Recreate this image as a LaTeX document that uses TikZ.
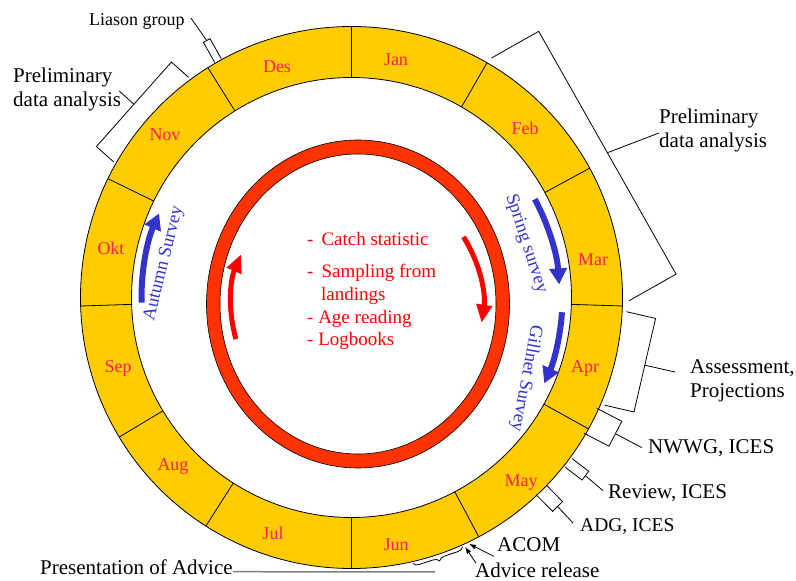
\documentclass[tikz,border=0pt]{standalone}
\usepackage{fontspec}
\setmainfont{Liberation Serif}
\usetikzlibrary{arrows.meta,calc,decorations.pathreplacing}

\definecolor{ringyellow}{RGB}{255,204,0}
\definecolor{ringred}{RGB}{255,51,0}
\definecolor{monthred}{RGB}{255,30,90}
\definecolor{catchred}{RGB}{255,0,0}
\definecolor{surveyblue}{RGB}{51,51,204}

\tikzset{
  month/.style={text=monthred, font=\fontsize{18}{18}\selectfont, inner sep=0pt},
  task/.style={font=\fontsize{21}{24}\selectfont, inner sep=0pt, align=left},
  catch/.style={text=catchred, font=\fontsize{19}{19}\selectfont, inner sep=0pt, anchor=base west},
  survey/.style={text=surveyblue, font=\fontsize{18.5}{18.5}\selectfont, inner sep=0pt},
  bluearrow/.style={surveyblue, line width=6pt, -{Triangle[width=17pt,length=16pt]}},
  redarrow/.style={catchred, line width=5pt, -{Triangle[width=15pt,length=18pt]}},
  leader/.style={black, line width=0.8pt},
  pointer/.style={black, line width=0.8pt, -{Latex[length=7pt,width=5pt]}},
}

% bracket: angle, inner, outer, half width, tip name
\newcommand{\taskbox}[5]{%
  \begin{scope}[shift={(C)}, rotate=#1]
    \draw[leader] (#2,-#4) -- (#3,-#4) -- (#3,#4) -- (#2,#4);
    \coordinate (#5) at (#3,0);
  \end{scope}}

\begin{document}
\begin{tikzpicture}[x=1pt,y=1pt]
\useasboundingbox (0,0) rectangle (796,581);
\coordinate (C) at (351.5,283.5);
\coordinate (R) at (358,277);

% year ring
\fill[ringyellow, even odd rule] (C) circle[radius=271] (C) circle[radius=220];
\draw[line width=0.8pt] (C) circle[radius=271] (C) circle[radius=220];
\foreach \a in {90,60,28.5,-1.8,-29,-62,-90,-122.5,-149,181.8,154,122}
  \draw[line width=0.8pt] ($(C)+(\a:220)$) -- ($(C)+(\a:271)$);

\foreach \m/\x/\y in {Jan/396/521, Feb/525/453, Mar/593/321, Apr/585/213,
    May/521/98, Jun/396/36, Jul/273/48, Aug/173/114, Sep/118/213,
    Okt/111/333, Nov/165/446, Des/277/514}
  \node[month] (m-\m) at (\x,\y) {\m};

% catch ring
\fill[ringred, even odd rule] (R) ellipse[x radius=151.5, y radius=164]
  (R) ellipse[x radius=138, y radius=150];
\draw[line width=0.6pt] (R) ellipse[x radius=151.5, y radius=164]
  (R) ellipse[x radius=138, y radius=150];
\draw[redarrow] ($(R)+(196:127)$) arc[start angle=196, end angle=157, radius=127];
\draw[redarrow] ($(R)+(32.5:125)$) arc[start angle=32.5, end angle=-8.6, radius=125];

\node[catch] (c1) at (307,335) {-\hspace{8pt}Catch statistic};
\node[catch] (c2) at (307,303) {-\hspace{8pt}Sampling from};
\node[catch] (c3) at (321,280) {landings};
\node[catch] (c4) at (307,257) {- Age reading};
\node[catch] (c5) at (307,235) {- Logbooks};

% surveys
\draw[bluearrow] ($(C)+(181.4:210)$) arc[start angle=181.4, end angle=156.4, radius=210];
\draw[bluearrow] ($(C)+(28.2:208)$) arc[start angle=28.2, end angle=3.6, radius=208];
\draw[bluearrow] ($(C)+(-4:211)$) arc[start angle=-4, end angle=-24, radius=211];
\node[survey, rotate=76] (autumn) at (164,317.5) {Autumn Survey};
\node[survey, rotate=-71.9] (spring) at (526,337) {Spring survey};
\node[survey, rotate=-100.6] (gillnet) at (526,202.5) {Gillnet Survey};

% brackets round the year
\taskbox{119.4}{272}{295}{3.75}{liason-tip}
\taskbox{138.4}{268}{291}{56.5}{prelimL-tip}
\taskbox{29.5}{240}{294}{139.5}{prelimR-tip}
\taskbox{-13}{271}{301}{48}{assess-tip}
\taskbox{-27.3}{269}{297}{14}{nwwg-tip}
\taskbox{-37.3}{273}{294}{5.5}{review-tip}
\taskbox{-45.4}{270}{293.5}{7}{adg-tip}

\node[task, anchor=base west, font=\fontsize{18}{18}\selectfont] (liason) at (89,555) {Liason group};
\node[task, anchor=west] (prelimL) at (13,492) {Preliminary\\data analysis};
\node[task, anchor=west] (prelimR) at (659,451) {Preliminary\\data analysis};
\node[task, anchor=west] (assess) at (690,200) {Assessment,\\Projections};
\node[task, anchor=base west] (nwwg) at (648,127) {NWWG, ICES};
\node[task, anchor=base west] (review) at (608,82) {Review, ICES};
\node[task, anchor=base west, font=\fontsize{19.5}{19.5}\selectfont] (adg) at (580,49) {ADG, ICES};
\node[task, anchor=base west] (acom) at (497,29) {ACOM};
\node[task, anchor=base west] (advrel) at (475,3) {Advice release};
\node[task, anchor=base west] (present) at (40,6) {Presentation of Advice};

\draw[leader] (liason-tip) -- ([xshift=6pt,yshift=4pt]liason.east);
\draw[leader] (prelimL-tip) -- ([xshift=-2pt,yshift=-2pt]prelimL.east);
\draw[leader] (prelimR-tip) -- ([yshift=-3pt]prelimR.west);
\draw[leader] (assess-tip) -- ([xshift=-15pt,yshift=9pt]assess.west);
\draw[leader] (nwwg-tip) -- ([xshift=-6pt,yshift=1pt]nwwg.west);
\draw[leader] (review-tip) -- ([xshift=-5pt,yshift=3pt]review.west);
\draw[leader] (adg-tip) -- ([xshift=-7pt,yshift=4pt]adg.west);

% advice
\coordinate (acom-tip) at ($(C)+(-64.5:273)$);
\coordinate (advrel-tip) at ($(C)+(-65.5:274)$);
\draw[pointer] ([xshift=-3pt,yshift=-4pt]acom.south west) -- (acom-tip);
\draw[pointer] ([xshift=1pt]advrel.north west) -- (advrel-tip);
\draw[leader, decorate, decoration={brace, amplitude=6pt}]
  ($(C)+(-66:273)$) -- ($(C)+(-77:273)$);
\coordinate (present-end) at (435,9);
\draw[gray, line width=1.5pt] ([yshift=-4pt]present.east) -- (present-end);
\end{tikzpicture}
\end{document}
